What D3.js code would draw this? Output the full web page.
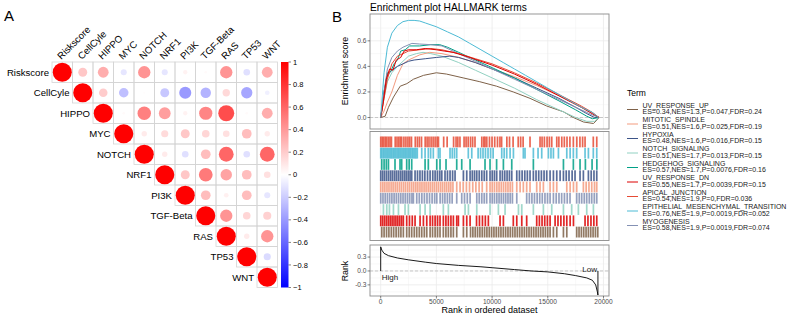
<!DOCTYPE html>
<html><head><meta charset="utf-8">
<script src="https://cdn.jsdelivr.net/npm/d3@7"></script>
<style>body{margin:0;background:#fff}svg{font-family:"Liberation Sans",Arial,sans-serif}</style>
</head><body><svg id="c" width="789" height="318"></svg>
<script>
// ---------- Panel A data ----------
const vars = ["Riskscore","CellCyle","HIPPO","MYC","NOTCH","NRF1","PI3K","TGF-Beta","RAS","TP53","WNT"];
const corrRows = [
  [1, 0.22, 0.32, -0.1, 0.42, -0.1, 0.05, 0.02, 0.42, -0.12, 0.32],
  [1, 0.2, -0.25, 0.01, -0.22, -0.4, -0.3, 0.15, -0.35, -0.06],
  [1, 0.02, 0.5, 0.38, 0.05, 0.48, 0.7, 0.02, 0.32],
  [1, 0.08, 0.14, 0.22, 0.16, 0.12, 0.26, 0.08],
  [1, 0.08, -0.12, 0.26, 0.6, -0.12, 0.6],
  [1, 0.22, 0.52, 0.36, 0.26, 0.12],
  [1, 0.26, 0.06, 0.26, -0.1],
  [1, 0.42, 0.16, 0.18],
  [1, 0.08, 0.42],
  [1, -0.14],
  [1]
];
const cbTicks = [1,0.8,0.6,0.4,0.2,0,-0.2,-0.4,-0.6,-0.8,-1];

// ---------- Panel B data ----------
const terms = ["APICAL_JUNCTION","EPITHELIAL_MESENCHYMAL_TRANSITION","HEDGEHOG_SIGNALING","HYPOXIA","MITOTIC_SPINDLE","MYOGENESIS","NOTCH_SIGNALING","UV_RESPONSE_DN","UV_RESPONSE_UP"];
const termColors = ["#E64B35","#4DBBD5","#00A087","#3C5488","#F39B7F","#8491B4","#91D1C2","#DC0000","#7E6148"];
const legendTerms = ["UV_RESPONSE_UP","MITOTIC_SPINDLE","HYPOXIA","NOTCH_SIGNALING","HEDGEHOG_SIGNALING","UV_RESPONSE_DN","APICAL_JUNCTION","EPITHELIAL_MESENCHYMAL_TRANSITION","MYOGENESIS"];
const legendStats = ["ES=0.34,NES=1.3,P=0.047,FDR=0.24","ES=0.51,NES=1.6,P=0.025,FDR=0.19","ES=0.48,NES=1.6,P=0.016,FDR=0.15","ES=0.51,NES=1.7,P=0.013,FDR=0.15","ES=0.57,NES=1.7,P=0.0076,FDR=0.16","ES=0.55,NES=1.7,P=0.0039,FDR=0.15","ES=0.54,NES=1.9,P=0,FDR=0.036","ES=0.76,NES=1.9,P=0.0019,FDR=0.052","ES=0.58,NES=1.9,P=0.0019,FDR=0.074"];

// running enrichment score curves [rank, ES]
const esApical = [[0,0],[300,0.15],[600,0.3],[1000,0.42],[1500,0.48],[2000,0.5],[2500,0.52],[3500,0.53],[4500,0.54],[5500,0.53],[7000,0.5],[8500,0.46],[10000,0.42],[12000,0.35],[14000,0.27],[16000,0.18],[18000,0.09],[19000,0.04],[19600,0]];
const esEMT = [[0,0],[300,0.35],[600,0.55],[1000,0.66],[1500,0.72],[2000,0.75],[2500,0.76],[3000,0.76],[3500,0.755],[4000,0.74],[5000,0.71],[6000,0.67],[7000,0.63],[8000,0.58],[9000,0.53],[10000,0.48],[11000,0.43],[12000,0.38],[13000,0.33],[14000,0.28],[15000,0.23],[16000,0.18],[17000,0.13],[18000,0.08],[19000,0.04],[19550,0]];
const esHedgehog = [[0,0],[300,0.2],[600,0.35],[900,0.36],[1200,0.42],[1500,0.45],[1800,0.52],[2200,0.53],[2600,0.56],[3500,0.56],[4500,0.57],[5300,0.57],[6000,0.55],[7000,0.51],[8500,0.45],[10000,0.39],[12000,0.31],[14000,0.22],[16000,0.13],[17500,0.06],[18500,0.01],[19000,-0.01],[19600,0]];
const esHypoxia = [[0,0],[300,0.2],[600,0.33],[1000,0.37],[1500,0.4],[2000,0.42],[2500,0.44],[3000,0.45],[4000,0.46],[5000,0.47],[6200,0.48],[7000,0.47],[8500,0.43],[10000,0.38],[12000,0.31],[14000,0.23],[16000,0.15],[17500,0.08],[18500,0.03],[19200,0.0],[19600,0]];
const esMitotic = [[0,0],[300,0.05],[600,0.12],[1000,0.2],[1500,0.33],[2000,0.42],[2500,0.45],[3000,0.47],[3500,0.49],[4400,0.51],[5500,0.5],[7000,0.47],[8500,0.43],[10000,0.38],[12000,0.32],[14000,0.25],[16000,0.17],[18000,0.08],[19000,0.03],[19600,0]];
const esMyogenesis = [[0,0],[300,0.2],[600,0.38],[1000,0.47],[1500,0.52],[2000,0.55],[2800,0.58],[3500,0.575],[4500,0.57],[5500,0.56],[7000,0.5],[8500,0.44],[10000,0.38],[12000,0.3],[14000,0.22],[16000,0.14],[18000,0.06],[19000,0.02],[19600,0]];
const esNotch = [[0,0],[300,0.15],[600,0.28],[1000,0.35],[1500,0.4],[2000,0.44],[2500,0.48],[3200,0.5],[3800,0.51],[4500,0.5],[5500,0.48],[7000,0.43],[8500,0.37],[10000,0.31],[12000,0.23],[14000,0.14],[16000,0.06],[17500,0.0],[18500,-0.03],[19200,-0.03],[19600,0]];
const esUVdn = [[0,0],[200,0.1],[500,0.3],[800,0.38],[1100,0.37],[1400,0.45],[1800,0.47],[2100,0.52],[2500,0.53],[3200,0.53],[4000,0.54],[5000,0.53],[5700,0.52],[6500,0.51],[8000,0.47],[10000,0.41],[12000,0.34],[14000,0.26],[16000,0.17],[18000,0.08],[19000,0.03],[19600,0]];
const esUVup = [[0,0],[400,0.01],[700,0.08],[1150,0.16],[1750,0.245],[2350,0.265],[2950,0.3],[3850,0.33],[5000,0.35],[5900,0.34],[7400,0.31],[8900,0.28],[10400,0.245],[11900,0.2],[13400,0.15],[14900,0.09],[16400,0.045],[17300,0.0],[18200,-0.035],[19100,-0.047],[19400,-0.02],[19600,0]];

// gene hit positions (rank)
const hitsApical = [0,130,260,400,530,680,830,960,1300,1460,1620,1760,1880,2080,2260,2440,2600,2760,3100,3290,3470,3660,3990,4160,4330,4520,4700,4880,5060,5180,5650,5960,6540,6760,6920,7110,7480,7660,7850,8060,8250,8460,9070,9250,9360,9520,9760,9990,10230,10480,10700,10850,11320,11560,11880,12340,12560,12780,13400,14300,14480,14690,14930,15140,15350,15800,15990,16250,16480,16720,16980,17290,17600,17880,18120,18340,19080,19390];
const hitsEMT = [0,100,220,330,450,560,660,780,890,1000,1120,1230,1340,1460,1570,1680,1800,1910,2020,2140,2250,2360,2480,2590,2700,2820,2930,3050,3160,3280,3680,3980,4270,4480,4720,5170,5320,6220,6420,6620,6820,7860,8170,8740,8960,9180,9400,9630,9860,10090,10860,11080,11310,11610,11910,12800,12950,13700,14120,14450,15050,15280,15500,15950,16700,17000,17290,17590,18340,18640,19080,19390];
const hitsHedgehog = [90,300,500,690,1280,1730,1880,2330,2550,2780,3980,4270,5030,5320,5860,6820,7270,8020,9360,9810,10400,11010,11760,13700,16400,17290,17890,18370,18970,19400];
const hitsHypoxia = [0,170,340,520,700,880,1050,1230,1400,1580,1760,1930,2110,2280,2460,2630,2780,3080,3300,3520,3740,3960,4200,4430,4670,4880,5090,5300,5480,5770,5990,6220,6450,6670,7420,7720,8020,8220,8420,8620,8840,9070,9290,9510,9810,10010,10210,10410,10710,10920,11130,11340,11550,11760,12210,12450,12690,12930,13160,13400,13700,13940,14180,14420,14660,14900,15200,15500,15800,16100,16400,16650,16900,17180,17440,17890,18190,18640,18890,19140,19390];
const hitsMitotic = [0,190,370,560,740,930,1110,1300,1480,1670,1850,2040,2220,2410,2590,2780,2960,3150,3330,3520,3700,3890,4070,4260,4440,4630,4810,5000,5180,5370,5550,5740,5920,6110,6290,6480,6820,7120,7400,7690,7970,8260,8540,8830,9110,9510,9810,10010,10210,10420,10620,10820,11020,11220,11420,11620,11820,12210,12510,12800,13100,13400,14000,14300,14600,15200,15500,15800,16700,17000,17300,17590,18190,18440,18690,18940,19190,19390];
const hitsMyogenesis = [0,200,400,600,800,1000,1200,1400,1600,1800,2000,2200,2400,2600,2800,2930,3230,3460,3690,3920,4150,4380,4610,4840,5030,5330,5550,5760,5980,6190,6410,6820,7270,7520,7770,8020,8620,8840,9070,9290,9510,9810,10010,10210,10420,10620,10820,11020,11220,11420,11620,11820,12210,13100,13340,13570,13800,14040,14270,14500,14740,14970,15200,15500,15750,16000,16240,16490,16740,16990,17590,17820,18040,18270,18490,18720,18940,19170,19390];
const hitsNotch = [240,540,780,1140,1590,2180,2480,3530,3980,4430,5620,6070,7570,7870,8620,9810,10560,11160,12360,12660,13700,14600,15350,16400,17140,17740,18490,19090];
const hitsUVdn = [0,170,340,510,680,850,1020,1190,1360,1530,1700,1870,2030,2330,2580,2830,3080,3530,3830,4130,4430,4650,4880,5100,5320,5620,5850,6070,6300,6520,6820,6970,7420,7720,8020,8600,8860,9130,9390,9660,10710,11010,11900,12210,12660,13100,14000,14240,14480,14720,14960,15200,15650,15910,16170,16440,16700,17000,17300,18340,18600,18870,19130,19390];
const hitsUVup = [90,300,520,730,950,1160,1380,1600,1810,2030,2330,2560,2780,3010,3230,3460,3680,3910,4130,4430,4650,4880,5100,5320,5620,5850,6070,6300,6520,6820,7420,7720,8060,8270,8480,8690,8900,9110,9320,9530,9740,9950,10160,10370,10580,10790,11000,11210,11420,11630,11840,12050,12260,12470,12680,12890,13100,13310,13520,13730,13940,14150,14360,14570,14780,14990,15200,15500,15800,16400,16700,17590,17800,18010,18220,18430,18640,18850,19060,19270,19480];

// ranked list metric [rank, value]
const rankMetric = [[0,0.52],[100,0.45],[300,0.38],[700,0.33],[1500,0.28],[2500,0.24],[4000,0.19],[5000,0.16],[7000,0.12],[9000,0.09],[10000,0.07],[12000,0.03],[13500,0.0],[15000,-0.02],[16500,-0.06],[17500,-0.1],[18500,-0.15],[19000,-0.2],[19300,-0.3],[19450,-0.45],[19500,-0.52]];
const xTicks = [0,5000,10000,15000,20000];
const esTicks = [0,0.2,0.4,0.6];
const rankTicks = [-0.3,0,0.3];

const svg = d3.select("#c");
const curves = [esApical,esEMT,esHedgehog,esHypoxia,esMitotic,esMyogenesis,esNotch,esUVdn,esUVup];
const hits = [hitsApical,hitsEMT,hitsHedgehog,hitsHypoxia,hitsMitotic,hitsMyogenesis,hitsNotch,hitsUVdn,hitsUVup];

// ================= Panel A =================
svg.append("text").attr("x",4).attr("y",21).attr("font-size",15).text("A");
const cs = 20.5, gx0 = 52, gy0 = 62;
const colScale = d3.scaleLinear().domain([-1,0,1]).range(["#0000FF","#FFFFFF","#FF0000"]);
const gA = svg.append("g");
const cells = [];
corrRows.forEach((row,i)=>row.forEach((v,k)=>cells.push({i, j:i+k, v})));
const xb = d3.scaleBand().domain(vars).range([gx0, gx0+cs*vars.length]);
const yb = d3.scaleBand().domain(vars).range([gy0, gy0+cs*vars.length]);
gA.selectAll("rect.cell").data(cells).join("rect")
  .attr("x",d=>xb(vars[d.j])).attr("y",d=>yb(vars[d.i]))
  .attr("width",cs).attr("height",cs)
  .attr("fill","none").attr("stroke","#D4D4D4").attr("stroke-width",0.8);
gA.selectAll("circle").data(cells).join("circle")
  .attr("cx",d=>xb(vars[d.j])+cs/2).attr("cy",d=>yb(vars[d.i])+cs/2)
  .attr("r",d=>Math.sqrt(Math.abs(d.v))*cs*0.465)
  .attr("fill",d=>colScale(d.v));
// row labels
gA.selectAll("text.rl").data(vars).join("text")
  .attr("x",(d,i)=>xb(d)-3).attr("y",d=>yb(d)+cs/2+3.5)
  .attr("text-anchor","end").attr("font-size",9.6).text(d=>d);
// column labels
gA.selectAll("text.cl").data(vars).join("text")
  .attr("transform",d=>`translate(${xb(d)+cs/2-1},${gy0-2}) rotate(-45)`)
  .attr("font-size",9.6).text(d=>d);
// colorbar
const defs = svg.append("defs");
const grad = defs.append("linearGradient").attr("id","cb").attr("x1",0).attr("y1",0).attr("x2",0).attr("y2",1);
grad.append("stop").attr("offset","0%").attr("stop-color","#FF0000");
grad.append("stop").attr("offset","50%").attr("stop-color","#FFFFFF");
grad.append("stop").attr("offset","100%").attr("stop-color","#0000FF");
const cbY = d3.scaleLinear().domain([1,-1]).range([gy0, gy0+cs*11]);
svg.append("rect").attr("x",281).attr("y",gy0).attr("width",7.5).attr("height",cs*11).attr("fill","url(#cb)");
const cbAx = svg.append("g");
cbAx.selectAll("line").data(cbTicks).join("line")
  .attr("x1",288.5).attr("x2",291).attr("y1",d=>cbY(d)).attr("y2",d=>cbY(d)).attr("stroke","#333").attr("stroke-width",0.6);
cbAx.selectAll("text").data(cbTicks).join("text")
  .attr("x",293).attr("y",d=>cbY(d)+2.6).attr("font-size",7.5)
  .text(d=>d<0 ? "\u2212"+Math.abs(d) : String(d));

// ================= Panel B =================
svg.append("text").attr("x",332).attr("y",22).attr("font-size",15).text("B");
svg.append("text").attr("x",370).attr("y",11).attr("font-size",10.2).text("Enrichment plot HALLMARK terms");
const L = 370, R = 609;
const x = d3.scaleLinear().domain([-960,20494]).range([L,R]);
const yES = d3.scaleLinear().domain([-0.09,0.81]).range([129,14]);
const yRk = d3.scaleLinear().domain([-0.54,0.56]).range([296,245]);
const midTop = 131.5, midBot = 240.5;
const majorX = xTicks, minorX = [2500,7500,12500,17500];

function grid(g, yTop, yBot, yScale, major, minor){
  g.selectAll("line.mnx").data(minorX).join("line").attr("class","mnx")
    .attr("x1",d=>x(d)).attr("x2",d=>x(d)).attr("y1",yTop).attr("y2",yBot).attr("stroke","#F4F4F4").attr("stroke-width",0.6);
  if(yScale){
    g.selectAll("line.mny").data(minor).join("line").attr("class","mny")
      .attr("x1",L).attr("x2",R).attr("y1",d=>yScale(d)).attr("y2",d=>yScale(d)).attr("stroke","#F4F4F4").attr("stroke-width",0.6);
    g.selectAll("line.mjy").data(major).join("line").attr("class","mjy")
      .attr("x1",L).attr("x2",R).attr("y1",d=>yScale(d)).attr("y2",d=>yScale(d)).attr("stroke","#EBEBEB").attr("stroke-width",0.8);
  }
  g.selectAll("line.mjx").data(majorX).join("line").attr("class","mjx")
    .attr("x1",d=>x(d)).attr("x2",d=>x(d)).attr("y1",yTop).attr("y2",yBot).attr("stroke","#EBEBEB").attr("stroke-width",0.8);
}
function yAxisTicks(g, yScale, ticks, fmt){
  g.selectAll("line.tk").data(ticks).join("line").attr("class","tk")
    .attr("x1",L-2.5).attr("x2",L).attr("y1",d=>yScale(d)).attr("y2",d=>yScale(d)).attr("stroke","#333").attr("stroke-width",0.6);
  g.selectAll("text.tl").data(ticks).join("text").attr("class","tl")
    .attr("x",L-3.5).attr("y",d=>yScale(d)+2.3).attr("text-anchor","end").attr("font-size",6.6).attr("fill","#4D4D4D")
    .text(fmt);
}
const fmt1 = d=> (d<0?"-":"")+Math.abs(d).toFixed(1);

// top ES panel
const gTop = svg.append("g");
grid(gTop, 14, 129, yES, esTicks, [0.1,0.3,0.5,0.7]);
gTop.append("line").attr("x1",L).attr("x2",R).attr("y1",yES(0)).attr("y2",yES(0))
  .attr("stroke","#BDBDBD").attr("stroke-width",0.8).attr("stroke-dasharray","3,2");
const line = d3.line().x(d=>x(d[0])).y(d=>yES(d[1]));
const drawOrder = [8,6,4,3,2,5,0,7,1];
drawOrder.forEach(k=>{
  gTop.append("path").datum(curves[k]).attr("d",line).attr("fill","none")
    .attr("stroke",termColors[k]).attr("stroke-width",1);
});
gTop.append("rect").attr("x",L).attr("y",14).attr("width",R-L).attr("height",115).attr("fill","none").attr("stroke","#8C8C8C").attr("stroke-width",0.9);
yAxisTicks(gTop, yES, esTicks, fmt1);
svg.append("text").attr("transform","translate(348,71) rotate(-90)").attr("text-anchor","middle").attr("font-size",8.8).text("Enrichment score");

// middle hits panel
const gMid = svg.append("g");
grid(gMid, midTop, midBot, null);
const rowY = d3.scaleBand().domain(terms).range([136.5, 237.5]).paddingInner(0.04);
terms.forEach((t,k)=>{
  gMid.selectAll(null).data(hits[k]).join("rect")
    .attr("x",d=>x(d)-0.8).attr("y",rowY(t)).attr("width",1.7).attr("height",rowY.bandwidth())
    .attr("fill",termColors[k]).attr("opacity",0.85);
});
gMid.append("rect").attr("x",L).attr("y",midTop).attr("width",R-L).attr("height",midBot-midTop).attr("fill","none").attr("stroke","#8C8C8C").attr("stroke-width",0.9);

// bottom rank panel
const gBot = svg.append("g");
grid(gBot, 245, 296, yRk, rankTicks, [-0.45,-0.15,0.15,0.45]);
gBot.append("line").attr("x1",L).attr("x2",R).attr("y1",yRk(0)).attr("y2",yRk(0))
  .attr("stroke","#BDBDBD").attr("stroke-width",0.8).attr("stroke-dasharray","3,2");
const first = rankMetric[0], last = rankMetric[rankMetric.length-1];
gBot.append("line").attr("x1",x(first[0])).attr("x2",x(first[0])).attr("y1",yRk(0)).attr("y2",yRk(first[1])).attr("stroke","#000").attr("stroke-width",0.9);
gBot.append("line").attr("x1",x(last[0])).attr("x2",x(last[0])).attr("y1",yRk(0)).attr("y2",yRk(last[1])).attr("stroke","#000").attr("stroke-width",0.9);
gBot.append("path").datum(rankMetric).attr("d",d3.line().x(d=>x(d[0])).y(d=>yRk(d[1]))).attr("fill","none").attr("stroke","#000").attr("stroke-width",0.9);
gBot.append("rect").attr("x",L).attr("y",245).attr("width",R-L).attr("height",51).attr("fill","none").attr("stroke","#8C8C8C").attr("stroke-width",0.9);
yAxisTicks(gBot, yRk, rankTicks, fmt1);
gBot.append("text").attr("x",x(0)+1).attr("y",279.5).attr("font-size",8).attr("fill","#222").text("High");
gBot.append("text").attr("x",x(19500)-1).attr("y",272).attr("text-anchor","end").attr("font-size",8).attr("fill","#222").text("Low");
svg.append("text").attr("transform","translate(348,271) rotate(-90)").attr("text-anchor","middle").attr("font-size",8.8).text("Rank");
// x axis
gBot.selectAll("line.xt").data(xTicks).join("line").attr("class","xt")
  .attr("x1",d=>x(d)).attr("x2",d=>x(d)).attr("y1",296).attr("y2",298.5).attr("stroke","#333").attr("stroke-width",0.6);
gBot.selectAll("text.xl").data(xTicks).join("text").attr("class","xl")
  .attr("x",d=>x(d)).attr("y",304).attr("text-anchor","middle").attr("font-size",6.6).attr("fill","#4D4D4D").text(d=>d);
svg.append("text").attr("x",(L+R)/2).attr("y",312.5).attr("text-anchor","middle").attr("font-size",9).text("Rank in ordered dataset");

// legend
const gLeg = svg.append("g");
gLeg.append("text").attr("x",627).attr("y",96).attr("font-size",8.5).text("Term");
legendTerms.forEach((t,i)=>{
  const k = terms.indexOf(t);
  const yb0 = 107.5 + i*14.5;
  gLeg.append("line").attr("x1",627).attr("x2",638).attr("y1",yb0+2).attr("y2",yb0+2).attr("stroke",termColors[k]).attr("stroke-width",1);
  gLeg.append("text").attr("x",642.5).attr("y",yb0).attr("font-size",7).attr("fill","#222").text(t);
  gLeg.append("text").attr("x",642.5).attr("y",yb0+6.6).attr("font-size",7).attr("fill","#222").text(legendStats[i]);
});
</script></body></html>
